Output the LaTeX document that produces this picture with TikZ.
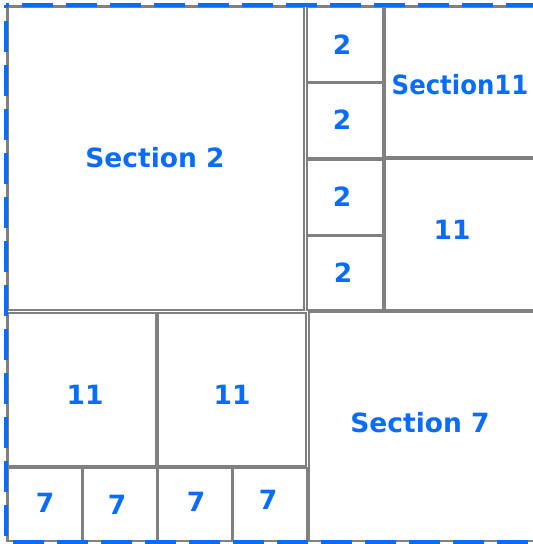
\documentclass[tikz,border=0pt]{standalone}
\usepackage{fontspec}
\setmainfont{DejaVu Sans}
\usetikzlibrary{fit}
\definecolor{lblue}{RGB}{10,108,255}
\definecolor{lgray}{RGB}{128,128,128}
\tikzset{
  box/.style={draw=lgray, line width=2pt, inner sep=0pt, rectangle},
  lbl/.style={text=lblue, font=\bfseries\fontsize{26.5}{30}\selectfont, inner sep=0pt},
  frame/.style={draw=lblue, line width=3.5pt, dash pattern=on 31pt off 13pt, dash phase=-16pt}
}
\begin{document}
\begin{tikzpicture}[x=1pt,y=-1pt]
\clip (0,0) rectangle (533,544);
\fill[white] (0,0) rectangle (533,544);
% outer gray rectangle
\node[box, fit={(7,6) (540,541)}] (outer) {};
% top-left section
\node[box, fit={(8,7) (304,310)}] (s2) {};
\node[lbl] (s2t) at (155,158) {Section 2};
% small 2 boxes
\node[box, fit={(307,7) (383,82)}] (a2) {};
\node[lbl] (a2t) at (342,45) {2};
\node[box, fit={(307,83) (383,158)}] (b2) {};
\node[lbl] (b2t) at (342,120) {2};
\node[box, fit={(307,160) (383,235)}] (c2) {};
\node[lbl] (c2t) at (342,197) {2};
\node[box, fit={(307,236) (383,310)}] (d2) {};
\node[lbl] (d2t) at (343,273) {2};
% right column
\node[box, fit={(385,7) (540,157)}] (s11) {};
\node[lbl, xscale=0.92] (s11t) at (460,85) {Section11};
\node[box, fit={(385,159) (540,310)}] (r11) {};
\node[lbl] (r11t) at (452,230) {11};
% bottom left
\node[box, fit={(8,313) (156,466)}] (l11a) {};
\node[lbl] (l11at) at (85,395) {11};
\node[box, fit={(158,313) (306,466)}] (l11b) {};
\node[lbl] (l11bt) at (232,395) {11};
\node[box, fit={(8,468) (82,541)}] (s7a) {};
\node[lbl] (s7at) at (45,503) {7};
\node[box, fit={(83,468) (157,541)}] (s7b) {};
\node[lbl] (s7bt) at (117,505) {7};
\node[box, fit={(158,468) (232,541)}] (s7c) {};
\node[lbl] (s7ct) at (196,502) {7};
\node[box, fit={(233,468) (307,541)}] (s7d) {};
\node[lbl] (s7dt) at (268,500) {7};
% bottom right
\node[box, fit={(309,312) (540,541)}] (s7) {};
\node[lbl] (s7t) at (420,423) {Section 7};
% dashed frame
\draw[frame] (outer.north west) -- (outer.south west) -- (outer.south east);
\draw[frame] (outer.north west) -- (outer.north east);
\end{tikzpicture}
\end{document}
